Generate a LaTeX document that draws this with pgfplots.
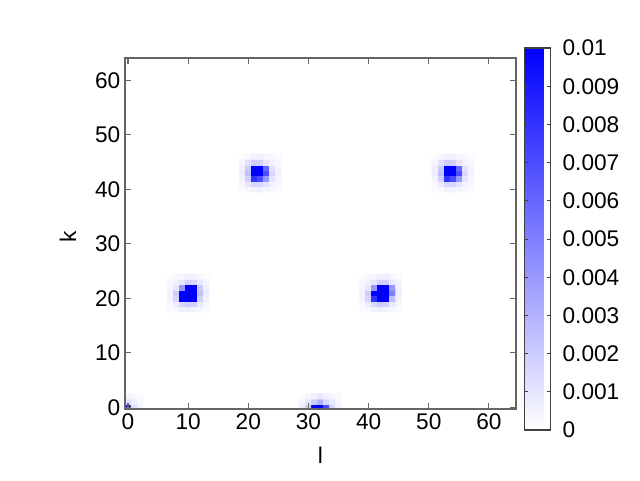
\documentclass[border=0pt]{standalone}
\usepackage{fontspec}
\setmainfont{Liberation Sans}
\usepackage{pgfplots}
\pgfplotsset{compat=1.18}

% spot near (l,k) = (10, 21)
\pgfplotstableread{
l k c
7 18 0.0002
8 18 0.0003
9 18 0.0005
10 18 0.0006
11 18 0.0005
12 18 0.0003
13 18 0.0002
7 19 0.0003
8 19 0.0007
9 19 0.0015
10 19 0.0020
11 19 0.0018
12 19 0.0008
13 19 0.0003
7 20 0.0005
8 20 0.0016
9 20 0.0100
10 20 0.0150
11 20 0.0120
12 20 0.0018
13 20 0.0005
7 21 0.0006
8 21 0.0020
9 21 0.0120
10 21 0.0300
11 21 0.0200
12 21 0.0025
13 21 0.0007
7 22 0.0004
8 22 0.0010
9 22 0.0040
10 22 0.0130
11 22 0.0150
12 22 0.0020
13 22 0.0006
7 23 0.0003
8 23 0.0005
9 23 0.0010
10 23 0.0018
11 23 0.0016
12 23 0.0008
13 23 0.0004
7 24 0.0002
8 24 0.0003
9 24 0.0004
10 24 0.0006
11 24 0.0005
12 24 0.0003
13 24 0.0002
}\spotA

% spot near (21, 43)
\pgfplotstableread{
l k c
19 40 0.0002
20 40 0.0003
21 40 0.0005
22 40 0.0005
23 40 0.0004
24 40 0.0003
25 40 0.0002
19 41 0.0003
20 41 0.0008
21 41 0.0016
22 41 0.0015
23 41 0.0010
24 41 0.0005
25 41 0.0003
19 42 0.0005
20 42 0.0018
21 42 0.0080
22 42 0.0070
23 42 0.0040
24 42 0.0010
25 42 0.0004
19 43 0.0007
20 43 0.0025
21 43 0.0300
22 43 0.0200
23 43 0.0070
24 43 0.0015
25 43 0.0005
19 44 0.0006
20 44 0.0020
21 44 0.0200
22 44 0.0150
23 44 0.0060
24 44 0.0012
25 44 0.0004
19 45 0.0004
20 45 0.0012
21 45 0.0020
22 45 0.0018
23 45 0.0010
24 45 0.0005
25 45 0.0003
19 46 0.0002
20 46 0.0003
21 46 0.0005
22 46 0.0005
23 46 0.0004
24 46 0.0003
25 46 0.0002
}\spotB

% spot near (42, 21)
\pgfplotstableread{
l k c
39 18 0.0002
40 18 0.0003
41 18 0.0005
42 18 0.0006
43 18 0.0005
44 18 0.0003
45 18 0.0002
39 19 0.0003
40 19 0.0007
41 19 0.0015
42 19 0.0020
43 19 0.0018
44 19 0.0008
45 19 0.0003
39 20 0.0005
40 20 0.0016
41 20 0.0080
42 20 0.0150
43 20 0.0120
44 20 0.0025
45 20 0.0005
39 21 0.0006
40 21 0.0020
41 21 0.0110
42 21 0.0300
43 21 0.0220
44 21 0.0050
45 21 0.0007
39 22 0.0004
40 22 0.0010
41 22 0.0040
42 22 0.0120
43 22 0.0150
44 22 0.0040
45 22 0.0006
39 23 0.0003
40 23 0.0005
41 23 0.0010
42 23 0.0018
43 23 0.0018
44 23 0.0009
45 23 0.0004
39 24 0.0002
40 24 0.0003
41 24 0.0004
42 24 0.0006
43 24 0.0006
44 24 0.0003
45 24 0.0002
}\spotC

% spot near (53, 43)
\pgfplotstableread{
l k c
51 40 0.0002
52 40 0.0003
53 40 0.0005
54 40 0.0005
55 40 0.0004
56 40 0.0003
57 40 0.0002
51 41 0.0003
52 41 0.0008
53 41 0.0016
54 41 0.0015
55 41 0.0010
56 41 0.0005
57 41 0.0003
51 42 0.0005
52 42 0.0018
53 42 0.0080
54 42 0.0070
55 42 0.0040
56 42 0.0010
57 42 0.0004
51 43 0.0007
52 43 0.0025
53 43 0.0300
54 43 0.0200
55 43 0.0070
56 43 0.0015
57 43 0.0005
51 44 0.0006
52 44 0.0020
53 44 0.0200
54 44 0.0150
55 44 0.0060
56 44 0.0012
57 44 0.0004
51 45 0.0004
52 45 0.0012
53 45 0.0020
54 45 0.0018
55 45 0.0010
56 45 0.0005
57 45 0.0003
51 46 0.0002
52 46 0.0003
53 46 0.0005
54 46 0.0005
55 46 0.0004
56 46 0.0003
57 46 0.0002
}\spotD

% spots on the k = 0 row
\pgfplotstableread{
l k c
0 0 0.0200
1 0 0.0012
2 0 0.0004
0 1 0.0012
1 1 0.0006
2 1 0.0003
0 2 0.0004
1 2 0.0003
2 2 0.0002
}\spotE

\pgfplotstableread{
l k c
29 0 0.0008
30 0 0.0020
31 0 0.0120
32 0 0.0200
33 0 0.0070
34 0 0.0015
35 0 0.0005
29 1 0.0004
30 1 0.0010
31 1 0.0020
32 1 0.0030
33 1 0.0015
34 1 0.0008
35 1 0.0003
29 2 0.0002
30 2 0.0004
31 2 0.0006
32 2 0.0008
33 2 0.0006
34 2 0.0004
35 2 0.0002
}\spotF

\begin{document}
\begin{tikzpicture}[font=\fontsize{17}{20}\selectfont]
\useasboundingbox (-93.75pt,-53.25pt) rectangle (386.25pt,306.75pt);
\begin{axis}[
    at={(0,0)}, anchor=south west,
    scale only axis, width=293.25pt, height=263.25pt,
    xmin=-0.5, xmax=64.5, ymin=-0.3, ymax=64.1,
    enlargelimits=false,
    xtick={0,10,...,60}, ytick={0,10,...,60},
    tick align=inside, major tick length=4.5pt,
    axis line style={black!60, line width=0.8pt},
    tick style={black!60, line width=0.8pt},
    xlabel={l}, ylabel={k},
    xlabel style={at={(axis description cs:0.5,-0.131)}, anchor=center},
    ylabel style={at={(axis description cs:-0.146,0.49)}, anchor=center},
    /pgf/number format/assume math mode=true,
    colormap={wb}{rgb255=(255,255,255) rgb255=(0,0,255)},
    point meta min=0, point meta max=0.01,
    axis on top,
    colorbar,
    colorbar style={
        at={(parent axis.north east)}, anchor=north west,
        xshift=-2.25pt, yshift=7.5pt,
        scale only axis, width=19.5pt, height=286.5pt,
        ytick={0,0.001,0.002,0.003,0.004,0.005,0.006,0.007,0.008,0.009,0.01},
        scaled y ticks=false,
        ytick pos=both, yticklabel pos=right,
        tick align=inside, major tick length=2.5pt,
        axis line style={black!75, line width=0.8pt},
        tick style={black!75, line width=0.6pt},
        yticklabel style={/pgf/number format/fixed,
            /pgf/number format/precision=3,
            /pgf/number format/assume math mode=true,
            inner xsep=0pt, xshift=9pt},
    },
]
\addplot[matrix plot*, mesh/cols=7, point meta=explicit] table[x=l, y=k, meta=c] {\spotA};
\addplot[matrix plot*, mesh/cols=7, point meta=explicit] table[x=l, y=k, meta=c] {\spotB};
\addplot[matrix plot*, mesh/cols=7, point meta=explicit] table[x=l, y=k, meta=c] {\spotC};
\addplot[matrix plot*, mesh/cols=7, point meta=explicit] table[x=l, y=k, meta=c] {\spotD};
\addplot[matrix plot*, mesh/cols=3, point meta=explicit] table[x=l, y=k, meta=c] {\spotE};
\addplot[matrix plot*, mesh/cols=7, point meta=explicit] table[x=l, y=k, meta=c] {\spotF};
\end{axis}
\end{tikzpicture}
\end{document}
